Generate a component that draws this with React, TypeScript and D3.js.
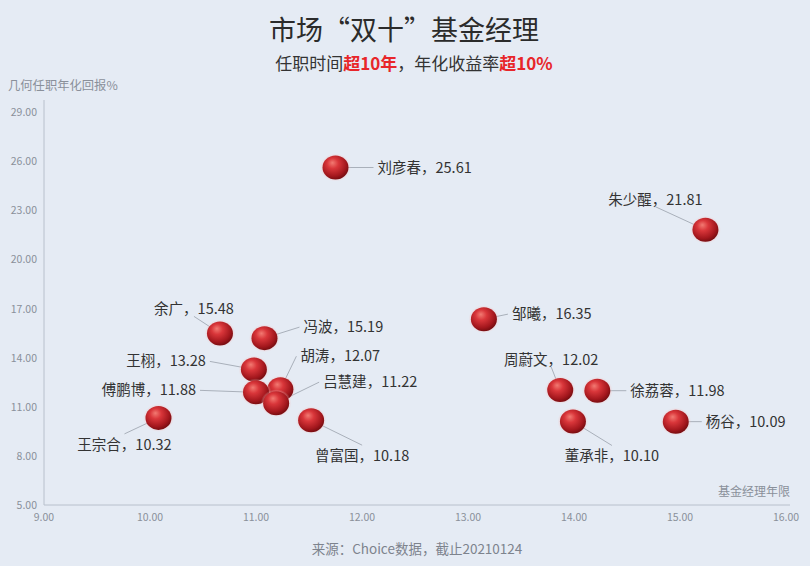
import React from "react";
import * as d3 from "d3";

// 基金经理名称、任职年限、几何任职年化回报
const managers = ["刘彦春", "朱少醒", "邹曦", "余广", "冯波", "王栩", "胡涛", "傅鹏博", "吕慧建", "王宗合", "曾富国", "周蔚文", "徐荔蓉", "董承非", "杨谷"];
const tenure = [11.75, 15.24, 13.15, 10.66, 11.08, 10.98, 11.23, 11.0, 11.19, 10.08, 11.52, 13.87, 14.22, 13.99, 14.96];
const annualReturn = [25.61, 21.81, 16.35, 15.48, 15.19, 13.28, 12.07, 11.88, 11.22, 10.32, 10.18, 12.02, 11.98, 10.1, 10.09];

const xTicks = [9, 10, 11, 12, 13, 14, 15, 16];
const yTicks = [5, 8, 11, 14, 17, 20, 23, 26, 29];

// label offsets (px) from each bubble: [dx, dy, anchor]
const labelLayout: [number, number, "start" | "middle" | "end"][] = [
    [42, 0, "start"],
    [-50, -30, "middle"],
    [28, -5, "start"],
    [-26, -24, "middle"],
    [39, -11, "start"],
    [-48, -8, "end"],
    [20, -33, "start"],
    [-60, -2, "end"],
    [47, -21, "start"],
    [-34, 27, "middle"],
    [51, 36, "middle"],
    [-9, -30, "middle"],
    [33, 0, "start"],
    [39, 35, "middle"],
    [30, 0, "start"],
];

const W = 810;
const H = 566;
const margin = { top: 100, right: 20, bottom: 61, left: 44 };
const font = "'Noto Sans CJK SC', 'Noto Sans', sans-serif";

const App: React.FC = () => {
    const x = d3.scaleLinear().domain([9, 16]).range([margin.left, 786]);
    const y = d3.scaleLinear().domain([5, 29]).range([H - margin.bottom, 112]);
    const fmt = d3.format(".2f");

    const pts = managers.map((name, i) => ({
        name,
        cx: x(tenure[i]),
        cy: y(annualReturn[i]),
        value: annualReturn[i],
        layout: labelLayout[i],
    }));

    return (
        <div style={{ position: "absolute", left: 0, top: 0 }}>
            <svg width={W} height={H} style={{ display: "block", fontFamily: font }}>
                <defs>
                    <radialGradient id="ball" cx="42%" cy="38%" r="62%" fx="38%" fy="30%">
                        <stop offset="0%" stopColor="#f27a72" />
                        <stop offset="35%" stopColor="#d9363a" />
                        <stop offset="80%" stopColor="#a3171d" />
                        <stop offset="100%" stopColor="#7a0e12" />
                    </radialGradient>
                    <radialGradient id="halo" cx="50%" cy="50%" r="50%">
                        <stop offset="70%" stopColor="#f5b5b5" stopOpacity={0.7} />
                        <stop offset="100%" stopColor="#f5c5c5" stopOpacity={0} />
                    </radialGradient>
                </defs>
                <rect width={W} height={H} fill="#e5ebf4" />

                {/* title */}
                <text x={404} y={40} textAnchor="middle" fontSize={27} fill="#2b2b2b">
                    市场“双十”基金经理
                </text>
                <text x={414} y={70} textAnchor="middle" fontSize={17} fill="#333">
                    <tspan>任职时间</tspan>
                    <tspan fill="#e8262a" fontWeight="bold">超10年</tspan>
                    <tspan>，年化收益率</tspan>
                    <tspan fill="#e8262a" fontWeight="bold">超10%</tspan>
                </text>

                {/* axes */}
                <line x1={margin.left} x2={margin.left} y1={margin.top} y2={y(5)} stroke="#b8c0cc" />
                <line x1={margin.left} x2={790} y1={y(5)} y2={y(5)} stroke="#b8c0cc" />
                {yTicks.map((t) => (
                    <text key={"y" + t} x={37} y={y(t) + 4} textAnchor="end" fontSize={10.5} fill="#8a909a">
                        {fmt(t)}
                    </text>
                ))}
                {xTicks.map((t) => (
                    <text key={"x" + t} x={x(t)} y={y(5) + 16} textAnchor="middle" fontSize={10.5} fill="#8a909a">
                        {fmt(t)}
                    </text>
                ))}
                <text x={8} y={90} fontSize={12.3} fill="#8a909a">几何任职年化回报%</text>
                <text x={790} y={496} textAnchor="end" fontSize={12} fill="#8a909a">基金经理年限</text>

                {/* leader lines */}
                {pts.map((p) => {
                    const [dx, dy, anchor] = p.layout;
                    let lx = p.cx + dx;
                    let ly = p.cy + dy;
                    if (anchor === "start") lx -= 4;
                    if (anchor === "end") lx += 4;
                    if (anchor === "middle") ly += dy < 0 ? 7 : -11;
                    return <line key={"l" + p.name} x1={p.cx} y1={p.cy} x2={lx} y2={ly} stroke="#a9b0ba" strokeWidth={1} />;
                })}

                {/* bubbles */}
                {pts.map((p) => (
                    <g key={"b" + p.name}>
                        <ellipse cx={p.cx} cy={p.cy} rx={15.5} ry={14} fill="url(#halo)" />
                        <ellipse cx={p.cx} cy={p.cy} rx={13} ry={12} fill="url(#ball)" />
                    </g>
                ))}

                {/* labels */}
                {pts.map((p) => {
                    const [dx, dy, anchor] = p.layout;
                    return (
                        <text
                            key={"t" + p.name}
                            x={p.cx + dx}
                            y={p.cy + dy + 5}
                            textAnchor={anchor}
                            fontSize={14.5}
                            fill="#333"
                        >
                            {p.name}，{p.value.toFixed(2)}
                        </text>
                    );
                })}

                <text x={417} y={554} textAnchor="middle" fontSize={13.5} fill="#7d838d">
                    来源：Choice数据，截止20210124
                </text>
            </svg>
        </div>
    );
};

export default App;
